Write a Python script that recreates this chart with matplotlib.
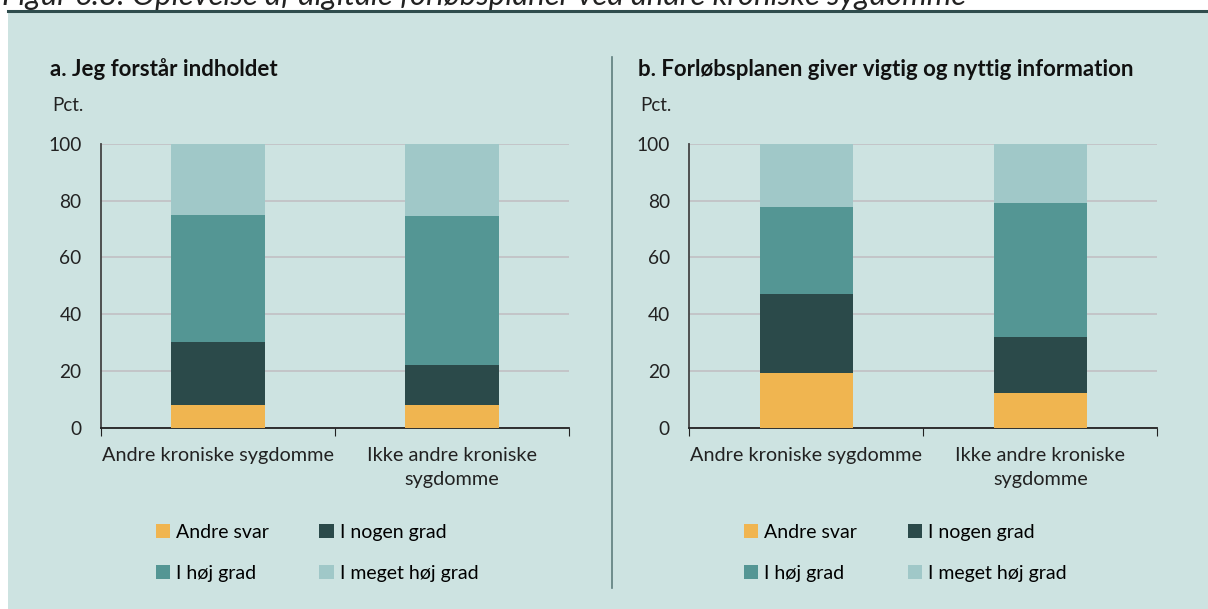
import matplotlib.pyplot as plt
from matplotlib.patches import Rectangle
from matplotlib.lines import Line2D

plt.rcParams['font.family'] = ['Lato', 'DejaVu Sans']

# === Data (pct.) ===
categories = ["Andre kroniske sygdomme", "Ikke andre kroniske\nsygdomme"]
series_names = ["Andre svar", "I nogen grad", "I høj grad", "I meget høj grad"]

a_andre = [8.1, 8.1]
a_nogen = [22.1, 13.9]
a_hoj = [44.7, 52.5]
a_meget = [25.1, 25.5]

b_andre = [19.4, 12.1]
b_nogen = [27.6, 20.0]
b_hoj = [30.7, 47.0]
b_meget = [22.3, 20.9]

panel_titles = ["a. Jeg forstår indholdet",
                "b. Forløbsplanen giver vigtig og nyttig information"]
fig_title = "Figur 6.8: Oplevelse af digitale forløbsplaner ved andre kroniske sygdomme"

colors = ["#f0b550", "#2b4a4a", "#549694", "#a0c8c8"]
BG = "#cde3e1"

W, H = 1208, 609
fig = plt.figure(figsize=(W / 100, H / 100), dpi=100)
fig.patch.set_facecolor("white")

# panel background + top rule
fig.add_artist(Rectangle((8 / W, 0), 1, (H - 12) / H, transform=fig.transFigure,
                         facecolor=BG, edgecolor="none", zorder=0))
fig.add_artist(Line2D([8 / W, 1], [1 - 11 / H, 1 - 11 / H], transform=fig.transFigure,
                      color="#2f4d4d", lw=2.2))
fig.text(2 / W, 1 - 4.5 / H, fig_title, fontsize=22.4, style="italic", color="#222222",
         va="baseline", ha="left")

# divider between panels
fig.add_artist(Line2D([611.5 / W, 611.5 / W], [1 - 57 / H, 1 - 588 / H],
                      transform=fig.transFigure, color="#5e7d7d", lw=1.2))


def draw_panel(left_px, data, title):
    ax = fig.add_axes([left_px / W, (H - 427.7) / H, 468 / W, 283.7 / H])
    ax.set_facecolor(BG)
    x = [0.5, 1.5]
    bottom = [0, 0]
    handles = []
    for vals, name, c in zip(data, series_names, colors):
        h = ax.bar(x, vals, width=0.4, bottom=bottom, color=c, label=name, zorder=3)
        handles.append(h)
        bottom = [b + v for b, v in zip(bottom, vals)]
    ax.set_xlim(0, 2)
    ax.set_ylim(0, 100)
    ax.set_yticks([0, 20, 40, 60, 80, 100])
    ax.grid(axis="y", color="#c2bfc3", lw=1.2, zorder=0)
    ax.set_xticks([0, 1, 2])
    ax.set_xticklabels([])
    ax.set_xticks(x, minor=True)
    ax.set_xticklabels(categories, minor=True, fontsize=14.3, color="#222222",
                       linespacing=1.5)
    ax.tick_params(axis="x", which="major", direction="out", length=6, color="#222222")
    ax.tick_params(axis="x", which="minor", length=0, pad=14)
    ax.tick_params(axis="y", length=0, pad=14, labelsize=13.8, labelcolor="#222222")
    for s in ["top", "right"]:
        ax.spines[s].set_visible(False)
    ax.spines["bottom"].set_color("#222222")
    ax.spines["bottom"].set_linewidth(1.3)
    ax.spines["left"].set_color("#444444")
    ax.spines["left"].set_linewidth(1.3)

    # titles
    ax.text(-51 / 468, 1 + 75 / 283.7, title, transform=ax.transAxes, fontsize=16,
            fontweight="bold", color="#111111", va="center", ha="left")
    ax.text(-49 / 468, 1 + 38 / 283.7, "Pct.", transform=ax.transAxes, fontsize=13.5,
            color="#222222", va="center", ha="left")

    order = [0, 2, 1, 3]
    ax.legend([handles[i] for i in order], [series_names[i] for i in order],
              ncol=2, loc="center left", bbox_to_anchor=(37 / 468, -125 / 283.7),
              frameon=False, fontsize=14, handlelength=0.75, handleheight=0.75,
              handletextpad=0.3, columnspacing=2.6, labelspacing=1.25)
    return ax


draw_panel(101, [a_andre, a_nogen, a_hoj, a_meget], panel_titles[0])
draw_panel(689.3, [b_andre, b_nogen, b_hoj, b_meget], panel_titles[1])

plt.savefig("out.png", dpi=100, facecolor=fig.get_facecolor())
